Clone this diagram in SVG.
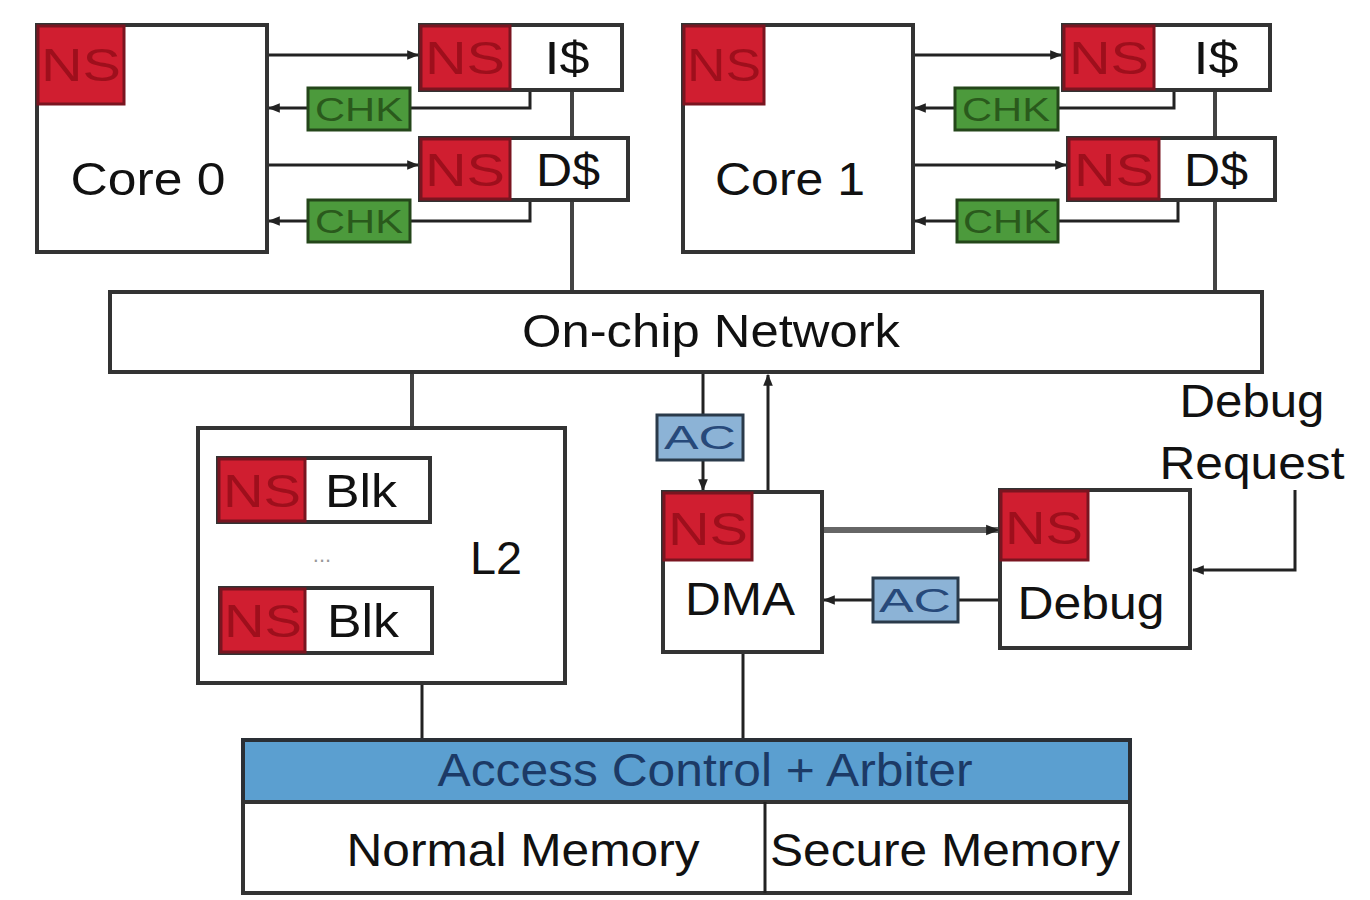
<svg xmlns="http://www.w3.org/2000/svg" width="1370" height="900" viewBox="0 0 1370 900">
<defs>
<style>
.box{fill:#fff;stroke:#333;stroke-width:4}
.ns{fill:#d01e30;stroke:#7a1520;stroke-width:3}
.nst{fill:#9e0f1c;font-family:"Liberation Sans",Arial,sans-serif;font-size:46px;text-anchor:middle}
.chk{fill:#4c9a3c;stroke:#24461a;stroke-width:3}
.chkt{fill:#2a5a1c;font-family:"Liberation Sans",Arial,sans-serif;font-size:34px;text-anchor:middle}
.ac{fill:#8cb3d6;stroke:#2a3a4a;stroke-width:3}
.act{fill:#27497a;font-family:"Liberation Sans",Arial,sans-serif;font-size:33px;text-anchor:middle}
.t{fill:#111;font-family:"Liberation Sans",Arial,sans-serif;font-size:46px;text-anchor:middle}
.ln{fill:none;stroke:#222;stroke-width:3}
.bus{fill:none;stroke:#444;stroke-width:4}
</style>
<marker id="ah" viewBox="0 0 10 10" refX="9" refY="5" markerWidth="4" markerHeight="4" orient="auto">
<path d="M0,1 L10,5 L0,9 z" fill="#222"/>
</marker>
<marker id="ahs" viewBox="0 0 10 10" refX="9" refY="5" markerWidth="2.2" markerHeight="2.2" orient="auto">
<path d="M0,1 L10,5 L0,9 z" fill="#222"/>
</marker>
</defs>

<g id="connectors">
<line class="ln" x1="267" y1="55" x2="418" y2="55" marker-end="url(#ah)"/>
<polyline class="ln" points="530,90 530,108 410,108"/>
<line class="ln" x1="308" y1="108" x2="269" y2="108" marker-end="url(#ah)"/>
<line class="ln" x1="267" y1="165" x2="418" y2="165" marker-end="url(#ah)"/>
<polyline class="ln" points="530,200 530,221 410,221"/>
<line class="ln" x1="308" y1="221" x2="269" y2="221" marker-end="url(#ah)"/>
<line class="bus" x1="572" y1="90" x2="572" y2="138"/>
<line class="bus" x1="572" y1="200" x2="572" y2="292"/>
<line class="ln" x1="913" y1="55" x2="1061" y2="55" marker-end="url(#ah)"/>
<polyline class="ln" points="1174,90 1174,108 1058,108"/>
<line class="ln" x1="955" y1="108" x2="915" y2="108" marker-end="url(#ah)"/>
<line class="ln" x1="913" y1="165" x2="1066" y2="165" marker-end="url(#ah)"/>
<polyline class="ln" points="1178,200 1178,221 1058,221"/>
<line class="ln" x1="957" y1="221" x2="915" y2="221" marker-end="url(#ah)"/>
<line class="bus" x1="1215" y1="90" x2="1215" y2="138"/>
<line class="bus" x1="1215" y1="200" x2="1215" y2="292"/>
<line class="bus" x1="412" y1="372" x2="412" y2="428"/>
<line class="ln" x1="703" y1="372" x2="703" y2="415"/>
<line class="ln" x1="703" y1="460" x2="703" y2="490" marker-end="url(#ah)"/>
<line class="ln" x1="768" y1="492" x2="768" y2="375" marker-end="url(#ah)"/>
<line x1="822" y1="530" x2="998" y2="530" stroke="#666" stroke-width="6" marker-end="url(#ahs)"/>
<line class="ln" x1="1000" y1="600" x2="958" y2="600"/>
<line class="ln" x1="873" y1="600" x2="824" y2="600" marker-end="url(#ah)"/>
<polyline class="ln" points="1295,490 1295,570 1193,570" marker-end="url(#ah)"/>
<line class="ln" x1="422" y1="683" x2="422" y2="740"/>
<line class="ln" x1="743" y1="652" x2="743" y2="740"/>
</g>

<g id="core0">
<rect class="box" x="37" y="25" width="230" height="227"/>
<rect class="ns" x="38" y="26" width="86" height="78"/>
<text class="nst" x="81" y="81" textLength="80" lengthAdjust="spacingAndGlyphs">NS</text>
<text class="t" x="148" y="195" textLength="155" lengthAdjust="spacingAndGlyphs">Core 0</text>
</g>
<g id="icache0">
<rect class="box" x="420" y="25" width="202" height="65"/>
<rect class="ns" x="421" y="26" width="89" height="63"/>
<text class="nst" x="465" y="74" textLength="80" lengthAdjust="spacingAndGlyphs">NS</text>
<text class="t" x="567" y="74" textLength="45" lengthAdjust="spacingAndGlyphs">I$</text>
</g>
<g id="chk0a">
<rect class="chk" x="308" y="88" width="102" height="42"/>
<text class="chkt" x="359" y="121" textLength="88" lengthAdjust="spacingAndGlyphs">CHK</text>
</g>
<g id="dcache0">
<rect class="box" x="420" y="138" width="208" height="62"/>
<rect class="ns" x="421" y="139" width="89" height="60"/>
<text class="nst" x="465" y="186" textLength="80" lengthAdjust="spacingAndGlyphs">NS</text>
<text class="t" x="568" y="186" textLength="64" lengthAdjust="spacingAndGlyphs">D$</text>
</g>
<g id="chk0b">
<rect class="chk" x="308" y="200" width="102" height="42"/>
<text class="chkt" x="359" y="233" textLength="88" lengthAdjust="spacingAndGlyphs">CHK</text>
</g>

<g id="core1">
<rect class="box" x="683" y="25" width="230" height="227"/>
<rect class="ns" x="684" y="26" width="80" height="78"/>
<text class="nst" x="724" y="81" textLength="74" lengthAdjust="spacingAndGlyphs">NS</text>
<text class="t" x="790" y="195" textLength="150" lengthAdjust="spacingAndGlyphs">Core 1</text>
</g>
<g id="icache1">
<rect class="box" x="1063" y="25" width="207" height="65"/>
<rect class="ns" x="1064" y="26" width="90" height="63"/>
<text class="nst" x="1109" y="74" textLength="80" lengthAdjust="spacingAndGlyphs">NS</text>
<text class="t" x="1216" y="74" textLength="45" lengthAdjust="spacingAndGlyphs">I$</text>
</g>
<g id="chk1a">
<rect class="chk" x="955" y="88" width="103" height="42"/>
<text class="chkt" x="1006" y="121" textLength="88" lengthAdjust="spacingAndGlyphs">CHK</text>
</g>
<g id="dcache1">
<rect class="box" x="1068" y="138" width="207" height="62"/>
<rect class="ns" x="1069" y="139" width="90" height="60"/>
<text class="nst" x="1114" y="186" textLength="80" lengthAdjust="spacingAndGlyphs">NS</text>
<text class="t" x="1216" y="186" textLength="64" lengthAdjust="spacingAndGlyphs">D$</text>
</g>
<g id="chk1b">
<rect class="chk" x="957" y="200" width="101" height="42"/>
<text class="chkt" x="1007" y="233" textLength="88" lengthAdjust="spacingAndGlyphs">CHK</text>
</g>

<g id="network">
<rect class="box" x="110" y="292" width="1152" height="80"/>
<text class="t" x="711" y="347" textLength="378" lengthAdjust="spacingAndGlyphs">On-chip Network</text>
</g>

<g id="l2">
<rect class="box" x="198" y="428" width="367" height="255"/>
<g id="blk1">
<rect class="box" x="218" y="458" width="212" height="64"/>
<rect class="ns" x="219" y="459" width="86" height="62"/>
<text class="nst" x="262" y="507" textLength="78" lengthAdjust="spacingAndGlyphs">NS</text>
<text class="t" x="361" y="507" textLength="72" lengthAdjust="spacingAndGlyphs">Blk</text>
</g>
<text x="322" y="562" fill="#999" font-family="Liberation Sans,Arial,sans-serif" font-size="22" text-anchor="middle">...</text>
<text class="t" x="496" y="574" textLength="52" lengthAdjust="spacingAndGlyphs">L2</text>
<g id="blk2">
<rect class="box" x="220" y="588" width="212" height="65"/>
<rect class="ns" x="221" y="589" width="84" height="63"/>
<text class="nst" x="263" y="637" textLength="78" lengthAdjust="spacingAndGlyphs">NS</text>
<text class="t" x="363" y="637" textLength="72" lengthAdjust="spacingAndGlyphs">Blk</text>
</g>
</g>

<g id="ac1">
<rect class="ac" x="657" y="415" width="86" height="45"/>
<text class="act" x="700" y="449" textLength="72" lengthAdjust="spacingAndGlyphs">AC</text>
</g>

<g id="dma">
<rect class="box" x="663" y="492" width="159" height="160"/>
<rect class="ns" x="664" y="493" width="88" height="67"/>
<text class="nst" x="708" y="545" textLength="80" lengthAdjust="spacingAndGlyphs">NS</text>
<text class="t" x="740" y="615" textLength="110" lengthAdjust="spacingAndGlyphs">DMA</text>
</g>

<g id="ac2">
<rect class="ac" x="873" y="578" width="85" height="44"/>
<text class="act" x="915" y="612" textLength="72" lengthAdjust="spacingAndGlyphs">AC</text>
</g>

<g id="debug">
<rect class="box" x="1000" y="490" width="190" height="158"/>
<rect class="ns" x="1001" y="491" width="87" height="69"/>
<text class="nst" x="1044" y="544" textLength="78" lengthAdjust="spacingAndGlyphs">NS</text>
<text class="t" x="1091" y="619" textLength="147" lengthAdjust="spacingAndGlyphs">Debug</text>
</g>

<g id="debugreq">
<text class="t" x="1252" y="417" textLength="145" lengthAdjust="spacingAndGlyphs">Debug</text>
<text class="t" x="1252" y="479" textLength="185" lengthAdjust="spacingAndGlyphs">Request</text>
</g>

<g id="aca">
<rect x="243" y="740" width="887" height="62" fill="#5b9fd0" stroke="#2a2f35" stroke-width="4"/>
<text x="705" y="786" fill="#1c3a66" font-family="Liberation Sans,Arial,sans-serif" font-size="46" text-anchor="middle" textLength="535" lengthAdjust="spacingAndGlyphs">Access Control + Arbiter</text>
</g>
<g id="memory">
<rect class="box" x="243" y="802" width="887" height="91"/>
<line class="ln" x1="765" y1="802" x2="765" y2="893"/>
<text class="t" x="523" y="866" textLength="353" lengthAdjust="spacingAndGlyphs">Normal Memory</text>
<text class="t" x="945" y="866" textLength="350" lengthAdjust="spacingAndGlyphs">Secure Memory</text>
</g>
</svg>
